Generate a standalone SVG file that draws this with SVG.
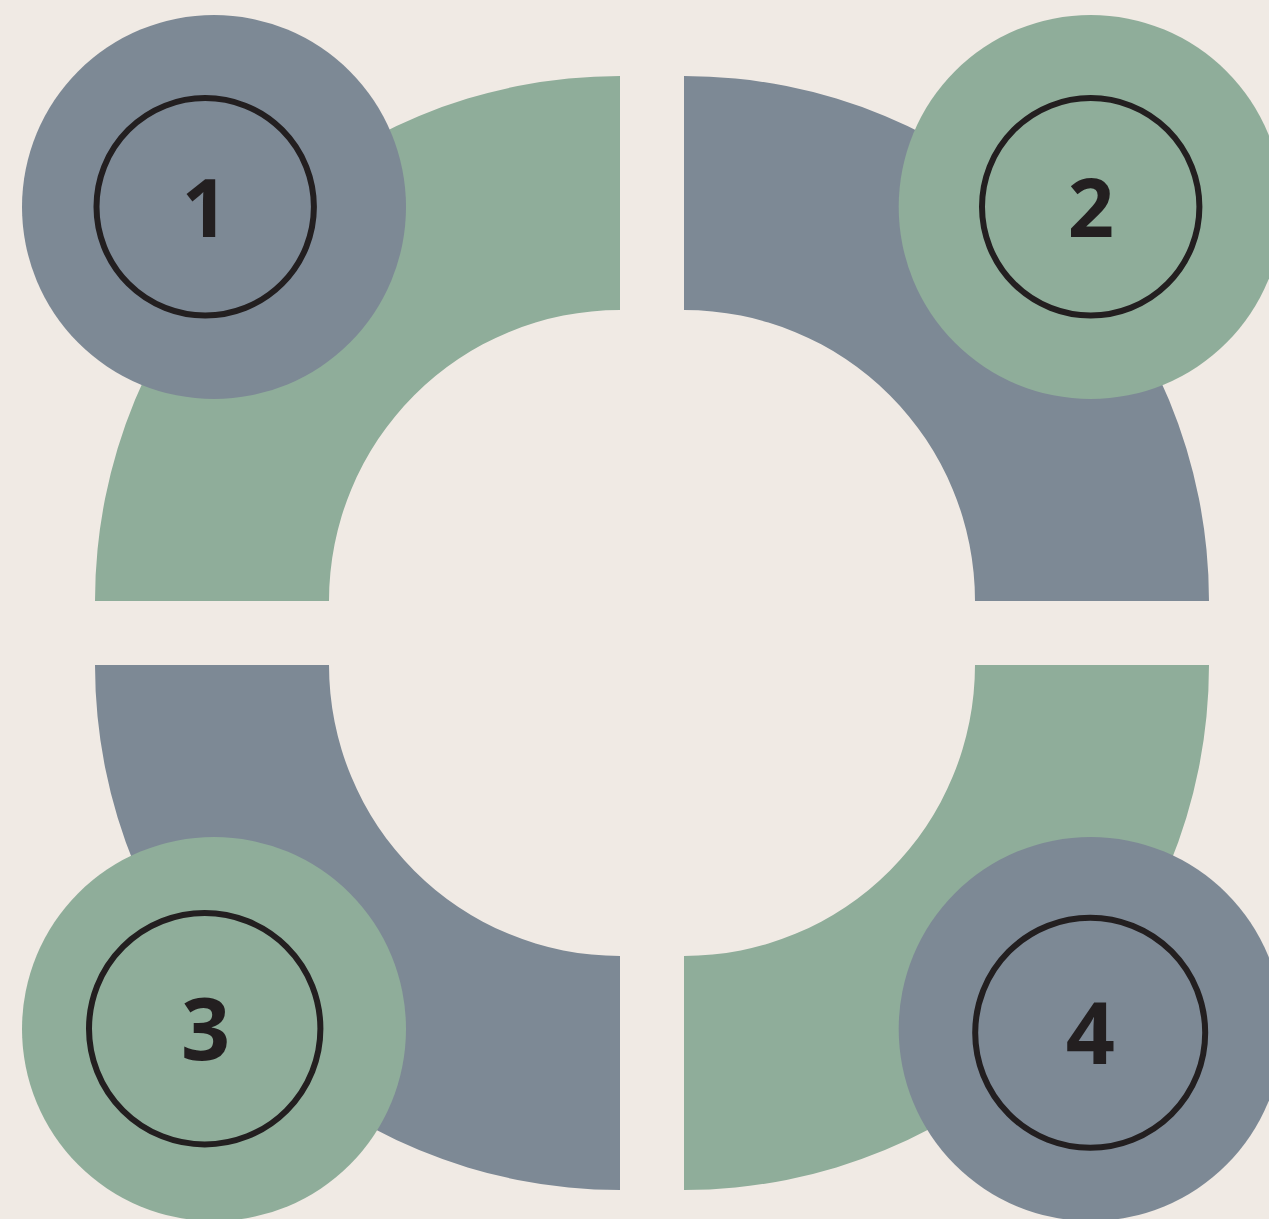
<svg xmlns="http://www.w3.org/2000/svg" width="1269" height="1219" viewBox="0 0 1269 1219">
<style>
.green{fill:#8FAD9A}
.blue{fill:#7D8995}
.ring{fill:none;stroke:#231F20;stroke-width:6}
.num{font-family:"Open Sans","Noto Sans","Liberation Sans",sans-serif;font-weight:700;fill:#231F20;text-anchor:middle}
</style>
<rect width="1269" height="1219" fill="#F0EAE4"/>
<g id="arcs">
<path class="green" d="M 95 601 A 525 525 0 0 1 620 76 L 620 310 A 291 291 0 0 0 329 601 Z"/>
<path class="blue" d="M 684 76 A 525 525 0 0 1 1209 601 L 975 601 A 291 291 0 0 0 684 310 Z"/>
<path class="blue" d="M 95 665 L 329 665 A 291 291 0 0 0 620 956 L 620 1190 A 525 525 0 0 1 95 665 Z"/>
<path class="green" d="M 975 665 L 1209 665 A 525 525 0 0 1 684 1190 L 684 956 A 291 291 0 0 0 975 665 Z"/>
</g>
<g id="node1">
<circle class="blue" cx="214" cy="207" r="192"/>
<circle class="ring" cx="205.2" cy="206.8" r="108.7"/>
<text class="num" x="205" y="237" font-size="81">1</text>
</g>
<g id="node2">
<circle class="green" cx="1090.7" cy="207" r="192"/>
<circle class="ring" cx="1090.7" cy="206.8" r="108.7"/>
<text class="num" x="1090.8" y="237" font-size="81">2</text>
</g>
<g id="node3">
<circle class="green" cx="214" cy="1029" r="192"/>
<circle class="ring" cx="204.7" cy="1028.7" r="115.7"/>
<text class="num" x="205.5" y="1059.5" font-size="86">3</text>
</g>
<g id="node4">
<circle class="blue" cx="1090.7" cy="1029" r="192"/>
<circle class="ring" cx="1090.2" cy="1032.8" r="115"/>
<text class="num" x="1090.3" y="1064" font-size="86">4</text>
</g>
</svg>
